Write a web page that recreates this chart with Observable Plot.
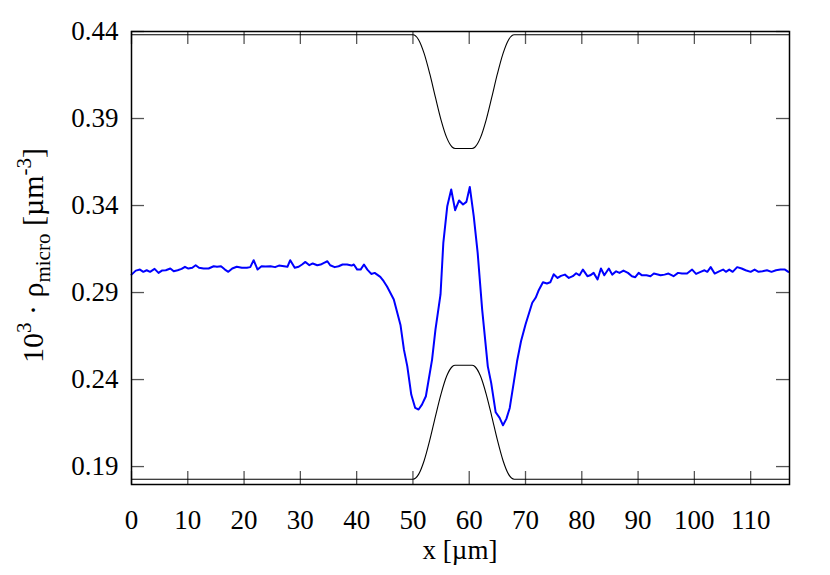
<!DOCTYPE html>
<html>
<head>
<meta charset="utf-8">
<script src="https://cdn.jsdelivr.net/npm/d3@7"></script>
<script src="https://cdn.jsdelivr.net/npm/@observablehq/plot@0.6"></script>
<style>
  body { margin: 0; background: #fff; }
  #chart { width: 830px; height: 575px; }
</style>
</head>
<body>
<div id="chart"></div>
<script>
// ---- tick labels ----
const xTicks = [0, 10, 20, 30, 40, 50, 60, 70, 80, 90, 100, 110];
const yTicks = [0.19, 0.24, 0.29, 0.34, 0.39, 0.44];

// ---- blue series: micro density profile ----
const densityX = [
  0, 0.76, 1.5, 2.1, 2.7, 3.3, 4.1, 4.8, 5.4, 6.1, 6.9, 7.5, 8.2, 8.9, 9.5, 10.1, 10.8, 11.4, 12.0, 12.8,
  13.7, 14.6, 15.2, 15.9, 16.6, 17.2, 17.9, 18.7, 19.6, 20.5, 21.1, 21.7, 22.4, 23.1, 23.8, 24.7, 25.5, 26.2,
  27.1, 27.7, 28.2, 29.0, 29.7, 30.3, 30.9, 31.6, 32.2, 33.0, 33.6, 34.2, 34.8, 35.3, 36.1, 36.8, 37.5, 38.3,
  39.1, 39.5, 40.1, 40.7, 41.3, 41.9, 42.6, 43.2, 44.2, 44.8, 45.4, 46.6, 47.8, 48.4, 49.0, 49.7, 50.4, 51.0,
  51.6, 52.3, 53.4, 54.0, 54.9, 55.4, 56.1, 56.8, 57.5, 58.2, 58.9, 59.5, 60.1, 60.8, 61.5, 62.3, 63.3, 63.9,
  64.7, 65.4, 66.0, 66.6, 67.2, 67.9, 68.5, 69.2, 70.0, 71.2, 71.8, 72.3, 73.1, 73.8, 74.4, 75.0, 75.7, 76.3,
  77.0, 77.7, 78.4, 79.0, 79.6, 80.2, 81.0, 81.5, 82.1, 82.8, 83.4, 84.0, 84.8, 85.4, 86.1, 86.7, 87.4, 88.2,
  88.9, 89.5, 90.1, 90.7, 91.5, 92.2, 92.8, 93.5, 94.0, 94.7, 95.4, 96.3, 97.1, 97.8, 98.7, 99.6, 100.3, 101.1,
  101.8, 102.3, 102.9, 103.6, 104.4, 105.1, 105.6, 106.2, 106.8, 107.6, 108.4, 109.1, 110.0, 110.7, 111.4,
  112.1, 112.9, 113.7, 114.5, 115.3, 116.1, 116.7
];
const densityY = [
  0.3003, 0.3026, 0.3032, 0.3019, 0.3028, 0.3019, 0.3036, 0.3013, 0.3026, 0.3028, 0.3038, 0.3022, 0.3028, 0.3036, 0.3048, 0.3038, 0.3042, 0.3057, 0.3042, 0.3038,
  0.3038, 0.3051, 0.3048, 0.3051, 0.3032, 0.3019, 0.3038, 0.3048, 0.3042, 0.3042, 0.3046, 0.3086, 0.3032, 0.3051, 0.3050, 0.3051, 0.3046, 0.3055,
  0.3051, 0.3048, 0.3086, 0.3042, 0.3048, 0.3061, 0.3076, 0.3057, 0.3067, 0.3057, 0.3061, 0.3071, 0.3080, 0.3057, 0.3046, 0.3051, 0.3061, 0.3061,
  0.3055, 0.3061, 0.3032, 0.3032, 0.3061, 0.3032, 0.3007, 0.3013, 0.2990, 0.2965, 0.2935, 0.2860, 0.2712, 0.2572, 0.2476, 0.2314, 0.2237, 0.2228,
  0.2256, 0.2304, 0.2515, 0.2687, 0.2889, 0.3186, 0.3396, 0.3492, 0.3373, 0.3429, 0.3406, 0.3421, 0.3507, 0.3339, 0.3128, 0.2802, 0.2476, 0.2381,
  0.2212, 0.2180, 0.2137, 0.2174, 0.2237, 0.2381, 0.2505, 0.2620, 0.2716, 0.2841, 0.2870, 0.2910, 0.2959, 0.2952, 0.2959, 0.3005, 0.2984, 0.2996,
  0.3003, 0.2984, 0.2994, 0.3011, 0.2999, 0.3032, 0.2994, 0.2999, 0.3013, 0.2975, 0.3038, 0.2999, 0.3038, 0.3003, 0.3022, 0.3013, 0.3026, 0.3013,
  0.2994, 0.2988, 0.3013, 0.2999, 0.2999, 0.2994, 0.3009, 0.3004, 0.2999, 0.3003, 0.3009, 0.2994, 0.3013, 0.3009, 0.3009, 0.3032, 0.3007, 0.3019,
  0.3028, 0.3019, 0.3046, 0.3009, 0.3022, 0.3032, 0.3019, 0.3032, 0.3019, 0.3046, 0.3038, 0.3028, 0.3019, 0.3032, 0.3019,
  0.3022, 0.3028, 0.3019, 0.3028, 0.3032, 0.3032, 0.3019
];

// ---- black wall outlines (channel constriction) ----
const wallX       = [0,      50,     51,     52,     53,     54,     55,     56,     57,     57.5,   60.5,   61,     62,     63,     64,     65,     66,     67,     68,     116.9];
const wallTopY    = [0.4381, 0.4381, 0.4353, 0.4273, 0.4156, 0.4021, 0.3891, 0.3790, 0.3735, 0.3728, 0.3728, 0.3735, 0.3790, 0.3891, 0.4021, 0.4156, 0.4273, 0.4353, 0.4381, 0.4381];
const wallBottomY = [0.1827, 0.1827, 0.1855, 0.1935, 0.2053, 0.2189, 0.2318, 0.2420, 0.2475, 0.2482, 0.2482, 0.2475, 0.2420, 0.2318, 0.2189, 0.2053, 0.1935, 0.1855, 0.1827, 0.1827];

// ---- layout ----
const W = 830, H = 575;
const mL = 131, mR = 41, mT = 31, mB = 91;
const innerW = W - mL - mR, innerH = H - mT - mB;
const tickLen = 13;
const font = "'Liberation Serif', 'Times New Roman', serif";

const density = densityX.map((x, i) => ({x, y: densityY[i]}));
const wallTop = wallX.map((x, i) => ({x, y: wallTopY[i]}));
const wallBottom = wallX.map((x, i) => ({x, y: wallBottomY[i]}));

const tickStyle = {stroke: "#555", strokeWidth: 1.3};

const plot = Plot.plot({
  width: W, height: H,
  marginLeft: mL, marginRight: mR, marginTop: mT, marginBottom: mB,
  style: {fontFamily: font, fontSize: "27px", background: "white", color: "black", overflow: "visible"},
  x: {domain: [0, 116.9], axis: null},
  y: {domain: [0.1797, 0.44], axis: null},
  marks: [
    Plot.tickX(xTicks, {x: d => d, insetTop: innerH - tickLen, ...tickStyle}),
    Plot.tickX(xTicks, {x: d => d, insetBottom: innerH - tickLen, ...tickStyle}),
    Plot.tickY(yTicks, {y: d => d, insetRight: innerW - tickLen, ...tickStyle}),
    Plot.tickY(yTicks, {y: d => d, insetLeft: innerW - tickLen, ...tickStyle}),
    Plot.line(wallTop, {x: "x", y: "y", stroke: "black", strokeWidth: 1.1, curve: "monotone-x"}),
    Plot.line(wallBottom, {x: "x", y: "y", stroke: "black", strokeWidth: 1.1, curve: "monotone-x"}),
    Plot.line(density, {x: "x", y: "y", stroke: "#0000ff", strokeWidth: 2}),
    Plot.frame({stroke: "black", strokeWidth: 1.5}),
    Plot.axisX(xTicks, {anchor: "bottom", label: null, tickSize: 0, tickPadding: 25, fontSize: 27, tickFormat: d => String(d)}),
    Plot.axisY(yTicks, {anchor: "left", label: null, tickSize: 0, tickPadding: 13, fontSize: 27, tickFormat: d => d.toFixed(2)})
  ]
});

document.getElementById("chart").appendChild(plot);

const svg = d3.select(plot);
// x-axis title
svg.append("text")
  .attr("x", (mL + W - mR) / 2)
  .attr("y", 559)
  .attr("text-anchor", "middle")
  .attr("font-family", font)
  .attr("font-size", 27)
  .attr("fill", "black")
  .text("x [µm]");

// y-axis title with super/subscripts
const yt = svg.append("text")
  .attr("transform", `translate(43,${mT + innerH / 2 - 2}) rotate(-90)`)
  .attr("text-anchor", "middle")
  .attr("font-family", font)
  .attr("font-size", 30)
  .attr("fill", "black");
yt.append("tspan").text("10");
yt.append("tspan").attr("dy", -12).attr("font-size", 21).text("3");
yt.append("tspan").attr("dy", 12).text(" · ρ");
yt.append("tspan").attr("dy", 7).attr("font-size", 21).text("micro");
yt.append("tspan").attr("dy", -7).text(" [µm");
yt.append("tspan").attr("dy", -12).attr("font-size", 21).text("-3");
yt.append("tspan").attr("dy", 12).text("]");
</script>
</body>
</html>
